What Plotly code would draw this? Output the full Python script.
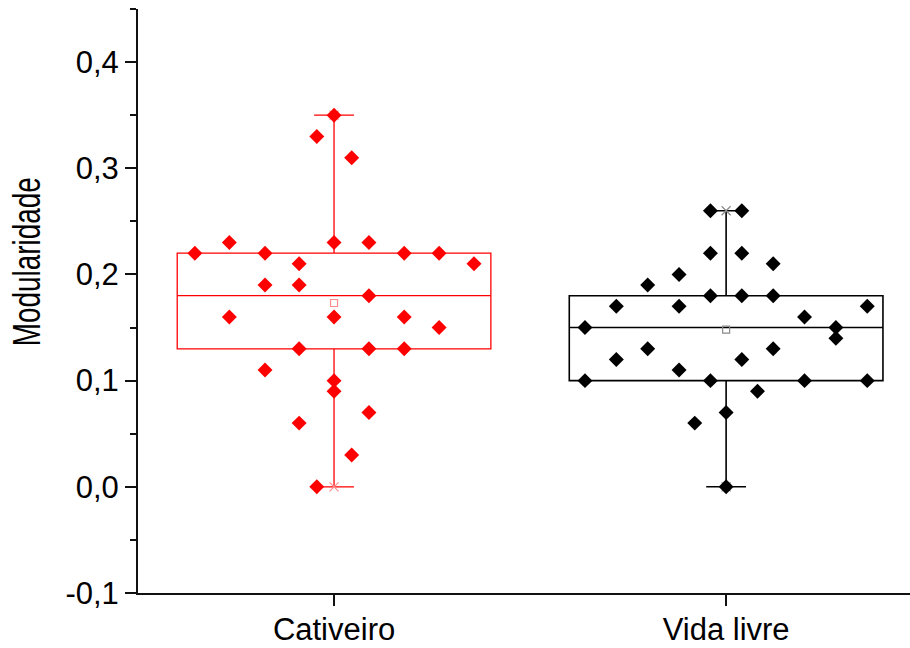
import numpy as np
import plotly.graph_objects as go

# Modularity values per group
groups = ["Cativeiro", "Vida livre"]
group_pos = [1, 2]

cativeiro = [0.35, 0.33, 0.31, 0.23, 0.23, 0.23, 0.22, 0.22, 0.22, 0.22,
             0.21, 0.21, 0.19, 0.19, 0.18, 0.16, 0.16, 0.16, 0.15, 0.13,
             0.13, 0.13, 0.11, 0.10, 0.09, 0.07, 0.06, 0.03, 0.00]
cativeiro_jitter = [0, -0.044, 0.045, -0.267, 0, 0.089, -0.355, -0.176, 0.179, 0.268,
                    -0.089, 0.357, -0.176, -0.089, 0.089, -0.267, 0, 0.179, 0.268, -0.089,
                    0.089, 0.179, -0.176, 0, 0, 0.089, -0.089, 0.045, -0.044]

vida_livre = [0.26, 0.26, 0.22, 0.22, 0.21, 0.20, 0.19, 0.18, 0.18, 0.18,
              0.17, 0.17, 0.17, 0.16, 0.15, 0.15, 0.14, 0.13, 0.13, 0.12,
              0.12, 0.11, 0.10, 0.10, 0.10, 0.10, 0.09, 0.07, 0.06, 0.00]
vida_livre_jitter = [-0.04, 0.04, -0.04, 0.04, 0.12, -0.12, -0.2, -0.04, 0.04, 0.12,
                     -0.28, -0.12, 0.36, 0.2, -0.36, 0.28, 0.28, -0.2, 0.12, -0.28,
                     0.04, -0.12, -0.36, -0.04, 0.2, 0.36, 0.08, 0, -0.08, 0]

y_tick_vals = [-0.1, 0.0, 0.1, 0.2, 0.3, 0.4]
y_tick_text = ["-0,1", "0,0", "0,1", "0,2", "0,3", "0,4"]

series = [
    (cativeiro, cativeiro_jitter, "#ff0000", "#ff8c8c", 1.3),
    (vida_livre, vida_livre_jitter, "#000000", "#8a8a8a", 1.6),
]

fig = go.Figure()

for pos, (vals, jit, color, light, lw) in zip(group_pos, series):
    vals = np.array(vals)
    fig.add_trace(go.Box(
        x=[pos] * len(vals), y=vals, boxpoints=False,
        quartilemethod="inclusive", width=0.8, whiskerwidth=0.127,
        fillcolor="rgba(0,0,0,0)", line=dict(color=color, width=lw),
        showlegend=False, hoverinfo="skip",
    ))
    # mean marker
    fig.add_trace(go.Scatter(
        x=[pos], y=[vals.mean()], mode="markers",
        marker=dict(symbol="square-open", size=7, color=light, line=dict(width=1.2)),
        showlegend=False, hoverinfo="skip",
    ))
    # min / max markers
    fig.add_trace(go.Scatter(
        x=[pos, pos], y=[vals.min(), vals.max()], mode="markers",
        marker=dict(symbol="x-thin-open", size=9, color=light, line=dict(width=1.2, color=light)),
        showlegend=False, hoverinfo="skip",
    ))
    # individual observations
    fig.add_trace(go.Scatter(
        x=[pos + j for j in jit], y=vals, mode="markers",
        marker=dict(symbol="diamond", size=11.5, color=color, line=dict(width=0)),
        showlegend=False,
    ))

axis_font = dict(family="Liberation Sans, Arial, sans-serif", size=31, color="#000")

fig.update_layout(
    width=910, height=648,
    margin=dict(l=138, r=0, t=9, b=55),
    paper_bgcolor="white", plot_bgcolor="white",
    font=axis_font,
    xaxis=dict(
        range=[0.5, 2.469], tickvals=group_pos, ticktext=groups,
        showline=True, linecolor="#111", linewidth=2,
        ticks="outside", ticklen=11, tickwidth=1.5, tickcolor="#111",
        showgrid=False, zeroline=False, tickfont=axis_font,
        ticklabelstandoff=-3,
    ),
    yaxis=dict(
        range=[-0.1, 0.45], tickvals=y_tick_vals, ticktext=y_tick_text,
        showline=True, linecolor="#111", linewidth=2,
        ticks="outside", ticklen=11, tickwidth=1.5, tickcolor="#111",
        minor=dict(dtick=0.05, tick0=0.05, ticks="outside", ticklen=6, tickwidth=1.5, tickcolor="#111", showgrid=False),
        showgrid=False, zeroline=False, tickfont=axis_font,
    ),
    annotations=[dict(
        text="Modularidade", textangle=-90,
        xref="paper", yref="paper", x=-0.1438, y=0.567,
        xanchor="center", yanchor="middle", showarrow=False,
        font=dict(family="Liberation Sans, Arial, sans-serif", size=38, color="#000"),
    )],
)

# condensed lettering for the y-axis title (narrow along the text direction)
condense_title = """
var gd = document.getElementById('{plot_id}');
gd.querySelectorAll('.annotation-text').forEach(function (t) {
  var b = t.getBBox();
  var cx = b.x + b.width / 2, cy = b.y + b.height / 2;
  t.setAttribute('transform',
    'translate(' + cx + ',' + cy + ') scale(0.734,1) translate(' + (-cx) + ',' + (-cy) + ')');
});
"""

fig.write_html("out.html", post_script=condense_title)
